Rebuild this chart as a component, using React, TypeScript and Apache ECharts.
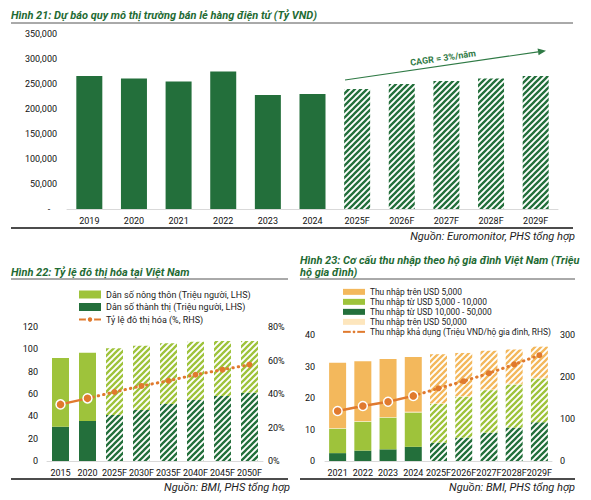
import React, { useEffect, useRef } from 'react';
import * as echarts from 'echarts';

// ---------- Data: Hình 21 ----------
const years1 = ['2019', '2020', '2021', '2022', '2023', '2024', '2025F', '2026F', '2027F', '2028F', '2029F'];
const market1 = [266000, 261000, 255000, 275000, 228000, 230000, 240000, 250000, 256000, 261000, 266000];
const firstForecast1 = 6;

// ---------- Data: Hình 22 ----------
const years2 = ['2015', '2020', '2025F', '2030F', '2035F', '2040F', '2045F', '2050F'];
const urban2 = [30.7, 35.8, 41.2, 45.7, 51.0, 54.6, 58.2, 61.2];
const rural2 = [61.5, 61.2, 59.7, 57.6, 54.4, 52.2, 49.3, 46.3];
const rate2 = [33.8, 37.4, 41.2, 44.8, 47.9, 51.5, 54.5, 57.5];
const firstForecast2 = 2;

// ---------- Data: Hình 23 ----------
const years3 = ['2021', '2022', '2023', '2024', '2025F', '2026F', '2027F', '2028F', '2029F'];
const inc10to50k = [2.5, 3.3, 3.7, 4.5, 5.8, 7.4, 9.0, 10.6, 12.3];
const inc5to10k = [7.8, 9.2, 10.1, 10.9, 12.3, 13.0, 13.5, 13.7, 13.9];
const incOver50k = [0.2, 0.2, 0.2, 0.2, 0.2, 0.2, 0.2, 0.2, 0.2];
const incUnder5k = [20.7, 19.0, 18.4, 17.4, 15.6, 13.7, 12.3, 10.9, 9.9];
const disposable3 = [119, 131, 141, 155, 173, 190, 209, 230, 252];
const firstForecast3 = 4;

const DG = '#236f3b';
const LG = '#9ec33b';
const OR = '#f3b85c';
const PALE = '#fde6bd';
const LINE = '#e07a2e';
const TITLE = '#1f6b34';
const FONT = 'Roboto';

function hatch(color: string) {
  const s = 6;
  const c = document.createElement('canvas');
  c.width = s;
  c.height = s;
  const ctx = c.getContext('2d')!;
  ctx.strokeStyle = color;
  ctx.lineWidth = 2.3;
  ctx.beginPath();
  ctx.moveTo(0, s);
  ctx.lineTo(s, 0);
  ctx.moveTo(-2, 2);
  ctx.lineTo(2, -2);
  ctx.moveTo(s - 2, s + 2);
  ctx.lineTo(s + 2, s - 2);
  ctx.stroke();
  return { image: c.toDataURL(), repeat: 'repeat', imageWidth: s, imageHeight: s };
}

function withForecast(values: number[], start: number, pattern: any) {
  return values.map((v, i) => (i >= start ? { value: v, itemStyle: { color: pattern } } : v));
}

export default function App() {
  const ref = useRef<HTMLDivElement>(null);
  useEffect(() => {
    document.body.style.margin = '0';
    const chart = echarts.init(ref.current!, null, { renderer: 'svg' });

    const hDG = hatch(DG);
    const hLG = hatch(LG);
    const hOR = hatch(OR);
    const hPALE = hatch('#f6d9a0');

    const axisLabel = { fontSize: 9, color: '#111', fontFamily: FONT };
    const catAxis = (gridIndex: number, data: string[]) => ({
      type: 'category',
      gridIndex,
      data,
      axisLine: { lineStyle: { color: '#d9d9d9' } },
      axisTick: { show: false },
      axisLabel: { ...axisLabel, margin: 7, interval: 0 },
    });
    const valAxis = (gridIndex: number, max: number, interval: number, extra: any = {}) => ({
      type: 'value',
      gridIndex,
      min: 0,
      max,
      interval,
      axisLine: { show: false },
      axisTick: { show: false },
      splitLine: { show: false },
      ...extra,
      axisLabel: { ...axisLabel, ...(extra.axisLabel || {}) },
    });

    const nRural = 'Dân số nông thôn (Triệu người, LHS)';
    const nUrban = 'Dân số thành thị (Triệu người, LHS)';
    const nRate = 'Tỷ lệ đô thị hóa (%, RHS)';
    const n1 = 'Thu nhập trên USD 5,000';
    const n2 = 'Thu nhập từ USD 5,000 - 10,000';
    const n3 = 'Thu nhập từ USD 10,000 - 50,000';
    const n4 = 'Thu nhập trên USD 50,000';
    const n5 = 'Thu nhập khả dụng (Triệu VND/hộ gia đình, RHS)';

    const actualLine = (name: string, data: number[], last: number, xi: number, yi: number) => ({
      name,
      type: 'line',
      xAxisIndex: xi,
      yAxisIndex: yi,
      z: 5,
      data: data.map((v, i) => (i <= last ? v : '-')),
      symbol: 'circle',
      symbolSize: 9,
      lineStyle: { color: LINE, width: 2.5 },
      itemStyle: { color: LINE, borderColor: '#fff', borderWidth: 1.5 },
    });
    const forecastLine = (name: string, data: number[], last: number, xi: number, yi: number) => ({
      name,
      type: 'line',
      xAxisIndex: xi,
      yAxisIndex: yi,
      z: 4,
      data: data.map((v, i) => (i < last ? '-' : i === last ? { value: v, symbol: 'none' } : v)),
      symbol: 'circle',
      symbolSize: 6,
      lineStyle: { color: LINE, width: 3, type: [0.5, 5], cap: 'round' },
      itemStyle: { color: LINE },
    });

    // arrow geometry for CAGR annotation
    const ax0 = 345, ay0 = 80, ax1 = 546, ay1 = 50.7;
    const len = Math.hypot(ax1 - ax0, ay1 - ay0);
    const ux = (ax1 - ax0) / len, uy = (ay1 - ay0) / len;
    const bx = ax1 - 8 * ux, by = ay1 - 8 * uy;
    const px = -uy, py = ux;

    const text = (x: number, y: number, t: string, style: any) => ({
      type: 'text',
      x,
      y,
      style: { text: t, fontFamily: FONT, verticalAlign: 'middle', ...style },
    });
    const hline = (x1: number, x2: number, y: number, stroke: string, w: number) => ({
      type: 'line',
      shape: { x1, y1: y, x2, y2: y },
      style: { stroke, lineWidth: w },
    });
    const titleStyle = { fontSize: 11, fontWeight: 'bold', fontStyle: 'italic', fill: TITLE };
    const srcStyle = { fontSize: 11, fontStyle: 'italic', fill: '#222', align: 'right' };

    const option: any = {
      animation: false,
      textStyle: { fontFamily: FONT },
      grid: [
        { left: 67, top: 34, width: 491, height: 175 },
        { left: 47, top: 327, width: 216, height: 134 },
        { left: 325, top: 335, width: 227, height: 126 },
      ],
      legend: [
        {
          orient: 'vertical',
          left: 73,
          top: 284,
          itemWidth: 22,
          itemHeight: 8,
          itemGap: 1.5,
          textStyle: { fontSize: 9, color: '#222', lineHeight: 11, fontFamily: FONT },
          data: [
            { name: nRural, icon: 'rect' },
            { name: nUrban, icon: 'rect' },
            { name: nRate },
          ],
        },
        {
          orient: 'vertical',
          left: 337,
          top: 282,
          itemWidth: 22,
          itemHeight: 6,
          itemGap: 0.3,
          textStyle: { fontSize: 8.4, color: '#222', lineHeight: 9.7, fontFamily: FONT },
          data: [
            { name: n1, icon: 'rect' },
            { name: n2, icon: 'rect' },
            { name: n3, icon: 'rect' },
            { name: n4, icon: 'rect' },
            { name: n5 },
          ],
        },
      ],
      xAxis: [catAxis(0, years1), catAxis(1, years2), catAxis(2, years3)],
      yAxis: [
        valAxis(0, 350000, 50000, {
          axisLabel: {
            margin: 10,
            formatter: (v: number) => (v === 0 ? '-   ' : v.toLocaleString('en-US')),
          },
        }),
        valAxis(1, 120, 20, { axisLabel: { margin: 9 } }),
        valAxis(1, 80, 20, { position: 'right', axisLabel: { margin: 5, formatter: '{value}%' } }),
        valAxis(2, 40, 10, { axisLabel: { margin: 10 } }),
        valAxis(2, 300, 100, { position: 'right', axisLabel: { margin: 8 } }),
      ],
      series: [
        {
          name: 'Quy mô thị trường',
          type: 'bar',
          xAxisIndex: 0,
          yAxisIndex: 0,
          barWidth: 26,
          itemStyle: { color: DG },
          data: withForecast(market1, firstForecast1, hDG),
        },
        {
          name: nUrban,
          type: 'bar',
          stack: 'pop',
          xAxisIndex: 1,
          yAxisIndex: 1,
          barWidth: 17,
          itemStyle: { color: DG },
          data: withForecast(urban2, firstForecast2, hDG),
        },
        {
          name: nRural,
          type: 'bar',
          stack: 'pop',
          xAxisIndex: 1,
          yAxisIndex: 1,
          barWidth: 17,
          itemStyle: { color: LG },
          data: withForecast(rural2, firstForecast2, hLG),
        },
        actualLine(nRate, rate2, firstForecast2 - 1, 1, 2),
        forecastLine('rate_forecast', rate2, firstForecast2 - 1, 1, 2),
        {
          name: n3,
          type: 'bar',
          stack: 'inc',
          xAxisIndex: 2,
          yAxisIndex: 3,
          barWidth: 17,
          itemStyle: { color: DG },
          data: withForecast(inc10to50k, firstForecast3, hDG),
        },
        {
          name: n2,
          type: 'bar',
          stack: 'inc',
          xAxisIndex: 2,
          yAxisIndex: 3,
          barWidth: 17,
          itemStyle: { color: LG },
          data: withForecast(inc5to10k, firstForecast3, hLG),
        },
        {
          name: n4,
          type: 'bar',
          stack: 'inc',
          xAxisIndex: 2,
          yAxisIndex: 3,
          barWidth: 17,
          itemStyle: { color: PALE },
          data: withForecast(incOver50k, firstForecast3, hPALE),
        },
        {
          name: n1,
          type: 'bar',
          stack: 'inc',
          xAxisIndex: 2,
          yAxisIndex: 3,
          barWidth: 17,
          itemStyle: { color: OR },
          data: withForecast(incUnder5k, firstForecast3, hOR),
        },
        actualLine(n5, disposable3, firstForecast3 - 1, 2, 4),
        forecastLine('inc_forecast', disposable3, firstForecast3 - 1, 2, 4),
      ],
      graphic: [
        text(11, 15, 'Hình 21: Dự báo quy mô thị trường bán lẻ hàng điện tử (Tỷ VND)', titleStyle),
        hline(11, 573, 23, '#555', 1),
        hline(11, 573, 228, '#111', 1.5),
        text(575, 236, 'Nguồn: Euromonitor, PHS tổng hợp', srcStyle),
        {
          type: 'line',
          shape: { x1: ax0, y1: ay0, x2: bx, y2: by },
          style: { stroke: '#2f7a45', lineWidth: 1.2 },
        },
        {
          type: 'polygon',
          shape: {
            points: [
              [ax1, ay1],
              [bx + 3.5 * px, by + 3.5 * py],
              [bx - 3.5 * px, by - 3.5 * py],
            ],
          },
          style: { fill: '#2f7a45' },
        },
        {
          type: 'text',
          x: 443,
          y: 58,
          rotation: Math.atan2(ay0 - ay1, ax1 - ax0),
          style: {
            text: 'CAGR = 3%/năm',
            fontFamily: FONT,
            fontSize: 9,
            fontWeight: 'bold',
            fill: '#2f7a45',
            align: 'center',
            verticalAlign: 'middle',
          },
        },
        text(11, 272, 'Hình 22: Tỷ lệ đô thị hóa tại Việt Nam', titleStyle),
        hline(11, 288, 279, '#555', 1),
        hline(11, 288, 479, '#111', 1.5),
        text(290, 487, 'Nguồn: BMI, PHS tổng hợp', srcStyle),
        text(300, 260, 'Hình 23: Cơ cấu thu nhập theo hộ gia đình Việt Nam (Triệu', titleStyle),
        text(300, 272, 'hộ gia đình)', titleStyle),
        hline(300, 575, 279, '#555', 1),
        hline(300, 575, 479, '#111', 1.5),
        text(575, 487, 'Nguồn: BMI, PHS tổng hợp', srcStyle),
      ],
    };
    chart.setOption(option);
    return () => chart.dispose();
  }, []);
  return <div ref={ref} style={{ width: 591, height: 500 }} />;
}
